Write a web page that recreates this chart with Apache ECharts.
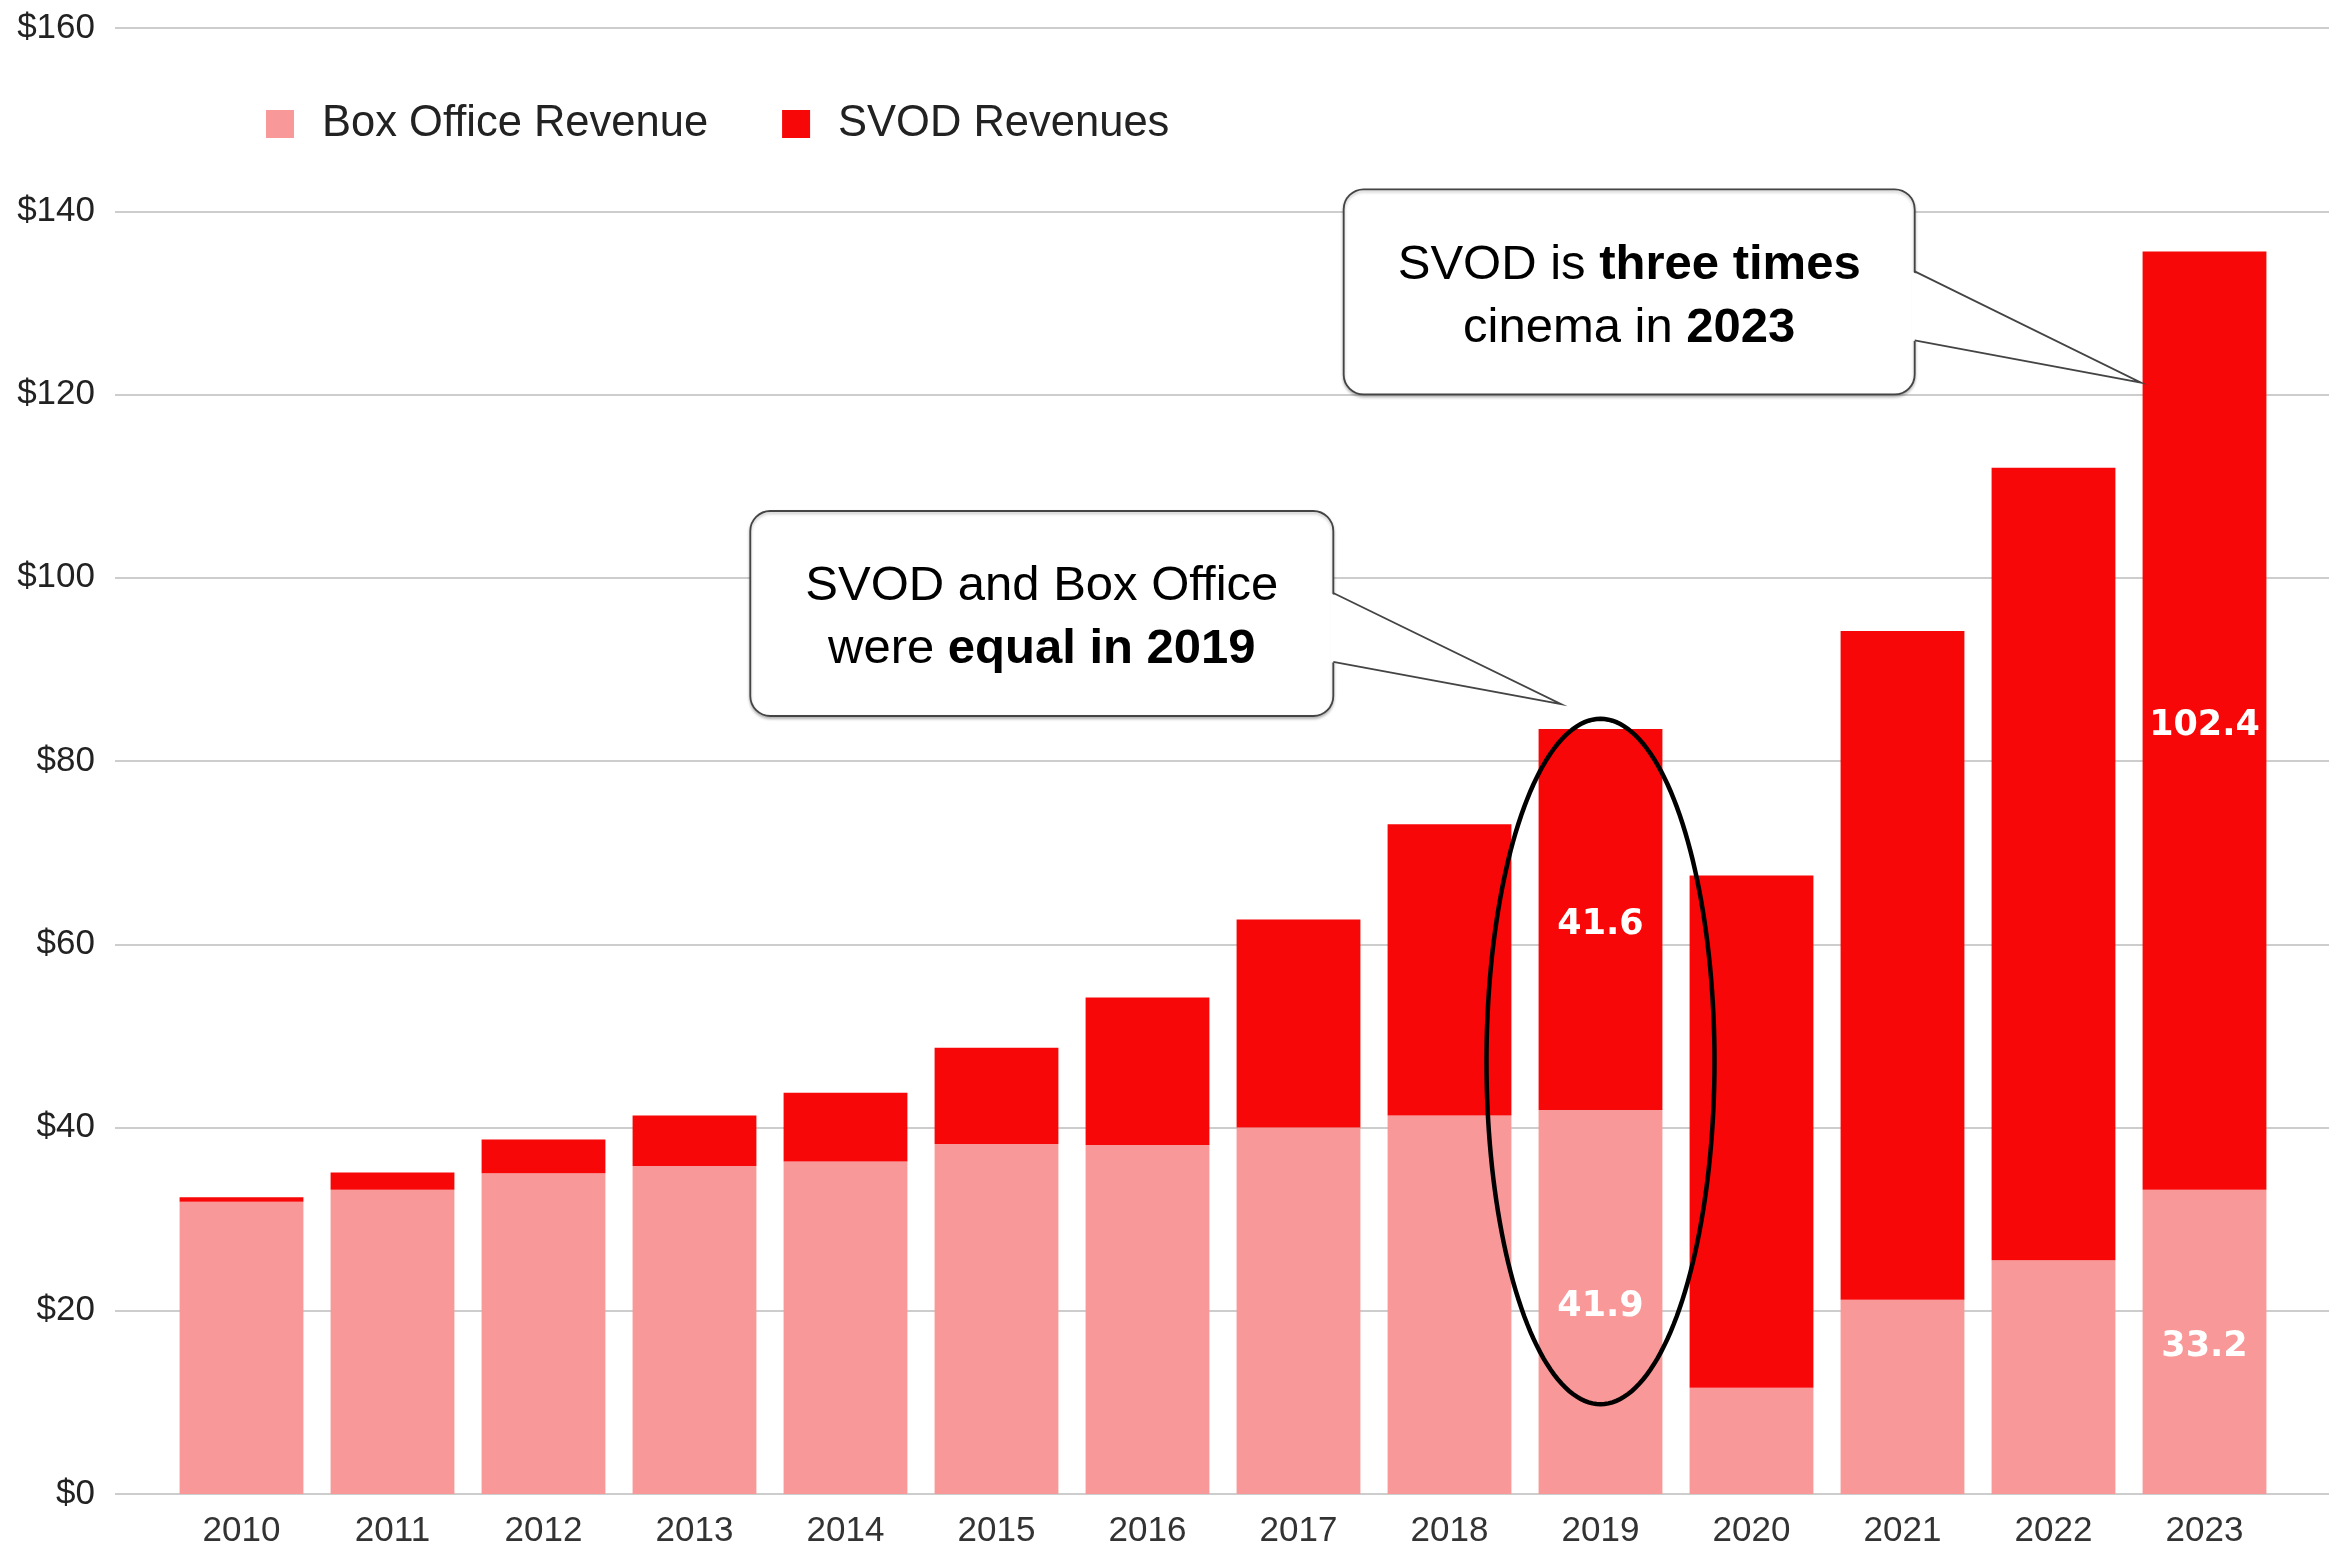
<!DOCTYPE html>
<html>
<head>
<meta charset="utf-8">
<title>SVOD vs Box Office</title>
<script src="https://cdn.jsdelivr.net/npm/echarts@6/dist/echarts.min.js"></script>
<style>
html,body{margin:0;padding:0;background:#fff;}
#main{width:2338px;height:1560px;}
</style>
</head>
<body>
<div id="main"></div>
<script>
// data ($ billions)
var years = ['2010','2011','2012','2013','2014','2015','2016','2017','2018','2019','2020','2021','2022','2023'];
var boxOffice = [31.9, 33.2, 35.0, 35.8, 36.3, 38.2, 38.1, 40.0, 41.3, 41.9, 11.6, 21.2, 25.5, 33.2];
var svod = [0.5, 1.9, 3.7, 5.5, 7.5, 10.5, 16.1, 22.7, 31.8, 41.6, 55.9, 73.0, 86.5, 102.4];
var yTicks = [0, 20, 40, 60, 80, 100, 120, 140, 160];
var labelledYears = ['2019', '2023'];

// callouts: [boxCategory, boxValue, tipCategory, tipValue]
var callouts = [
    [5.3, 96.1, 8.74, 86.2],
    [9.19, 131.2, 12.58, 121.3]
];
var calloutText = [
    '{r|SVOD and Box Office}\n{r|were }{b|equal in 2019}',
    '{r|SVOD is }{b|three times}\n{r|cinema in }{b|2023}'
];
// ring round 2019: [category, centerValue, halfWidthInBands, halfHeightInValue]
var ring = [[9, 47.2, 0.755, 37.4]];

var pink = '#f89898';
var red = '#f70707';
var textFont = "'Liberation Sans', Arial, sans-serif";

function labelled(values) {
    var out = [];
    for (var i = 0; i < values.length; i++) {
        out.push({
            value: values[i],
            label: {show: labelledYears.indexOf(years[i]) >= 0}
        });
    }
    return out;
}

function catToPx(api, cat, val) {
    var p = api.coord([0, val]);
    var band = api.size([1, 0])[0];
    return [p[0] + cat * band, p[1]];
}

function renderCallout(params, api) {
    var c = catToPx(api, api.value(0), api.value(1));
    var tip = catToPx(api, api.value(2), api.value(3));
    var w = params.dataIndex == 0 ? 583 : 571;
    var h = 205;
    var x0 = c[0] - w / 2, y0 = c[1] - h / 2;
    var right = x0 + w;
    var a1 = y0 + 82, a2 = y0 + 151;
    return {
        type: 'group',
        children: [
            {
                type: 'rect',
                shape: {x: x0, y: y0, width: w, height: h, r: 20},
                style: {fill: '#fff', stroke: '#444', lineWidth: 1.8,
                    shadowBlur: 3, shadowOffsetY: 2, shadowColor: 'rgba(0,0,0,0.25)'}
            },
            {
                type: 'polygon',
                shape: {points: [[right - 3, a1], tip, [right - 3, a2]]},
                style: {fill: '#fff'}
            },
            {
                type: 'polyline',
                shape: {points: [[right, a1], tip, [right, a2]]},
                style: {fill: null, stroke: '#444', lineWidth: 1.8}
            },
            {
                type: 'text',
                style: {
                    x: c[0], y: c[1] + 5,
                    text: calloutText[params.dataIndex],
                    align: 'center', verticalAlign: 'middle',
                    rich: {
                        r: {fontSize: 49, fontFamily: textFont, color: '#1a1a1a', lineHeight: 63},
                        b: {fontSize: 49, fontFamily: textFont, fontWeight: 'bold', color: '#1a1a1a', lineHeight: 63}
                    }
                }
            }
        ]
    };
}

function renderRing(params, api) {
    var c = catToPx(api, api.value(0), api.value(1));
    var rx = api.size([1, 0])[0] * api.value(2);
    var ry = api.size([0, api.value(3)])[1];
    var pts = [];
    for (var k = 0; k < 180; k++) {
        var t = k / 180 * Math.PI * 2;
        pts.push([c[0] + rx * Math.cos(t), c[1] + ry * Math.sin(t)]);
    }
    return {
        type: 'polygon',
        shape: {points: pts},
        style: {fill: null, stroke: '#000', lineWidth: 4.5}
    };
}

var barLabel = {
    position: 'inside', color: '#fff', fontSize: 35, fontWeight: 'bold',
    fontFamily: "'DejaVu Sans', sans-serif",
    offset: [0, 5],
    formatter: function (p) { return p.value.toFixed(1); }
};

var option = {
    backgroundColor: '#fff',
    animation: false,
    legend: {
        left: 261,
        top: 97,
        icon: 'rect',
        itemWidth: 28,
        itemHeight: 28,
        itemGap: 74,
        textStyle: {fontSize: 43.5, color: '#222', fontFamily: textFont, padding: [0, 0, 0, 23]},
        data: ['Box Office Revenue', 'SVOD Revenues']
    },
    grid: [
        {left: 115, right: 9, top: 28, bottom: 66},
        {left: 166, right: 58, top: 28, bottom: 66}
    ],
    xAxis: [
        {gridIndex: 0, type: 'value', show: false, min: 0, max: 1},
        {
            gridIndex: 1,
            type: 'category',
            data: years,
            axisLine: {show: false},
            axisTick: {show: false},
            axisLabel: {fontSize: 35, color: '#333', fontFamily: textFont, margin: 20}
        }
    ],
    yAxis: [
        {
            gridIndex: 0,
            type: 'value',
            min: yTicks[0],
            max: yTicks[yTicks.length - 1],
            interval: yTicks[1] - yTicks[0],
            axisLine: {show: false},
            axisTick: {show: false},
            splitLine: {lineStyle: {color: '#cdcdcd', width: 2}},
            axisLabel: {
                fontSize: 35, color: '#222', fontFamily: textFont, margin: 20,
                formatter: function (v) { return '$' + v; }
            }
        },
        {gridIndex: 1, type: 'value', show: false, min: 0, max: 160}
    ],
    series: [
        {
            name: 'Box Office Revenue',
            type: 'bar',
            stack: 'rev',
            xAxisIndex: 1,
            yAxisIndex: 1,
            barCategoryGap: '18%',
            itemStyle: {color: pink},
            label: barLabel,
            data: labelled(boxOffice)
        },
        {
            name: 'SVOD Revenues',
            type: 'bar',
            stack: 'rev',
            xAxisIndex: 1,
            yAxisIndex: 1,
            barCategoryGap: '18%',
            itemStyle: {color: red},
            label: barLabel,
            data: labelled(svod)
        },
        {
            type: 'custom',
            xAxisIndex: 1,
            yAxisIndex: 1,
            clip: false,
            silent: true,
            renderItem: renderRing,
            data: ring,
            z: 5
        },
        {
            type: 'custom',
            xAxisIndex: 1,
            yAxisIndex: 1,
            clip: false,
            silent: true,
            renderItem: renderCallout,
            data: callouts,
            z: 6
        }
    ]
};

var myChart = echarts.init(document.getElementById('main'));
myChart.setOption(option);
</script>
</body>
</html>
